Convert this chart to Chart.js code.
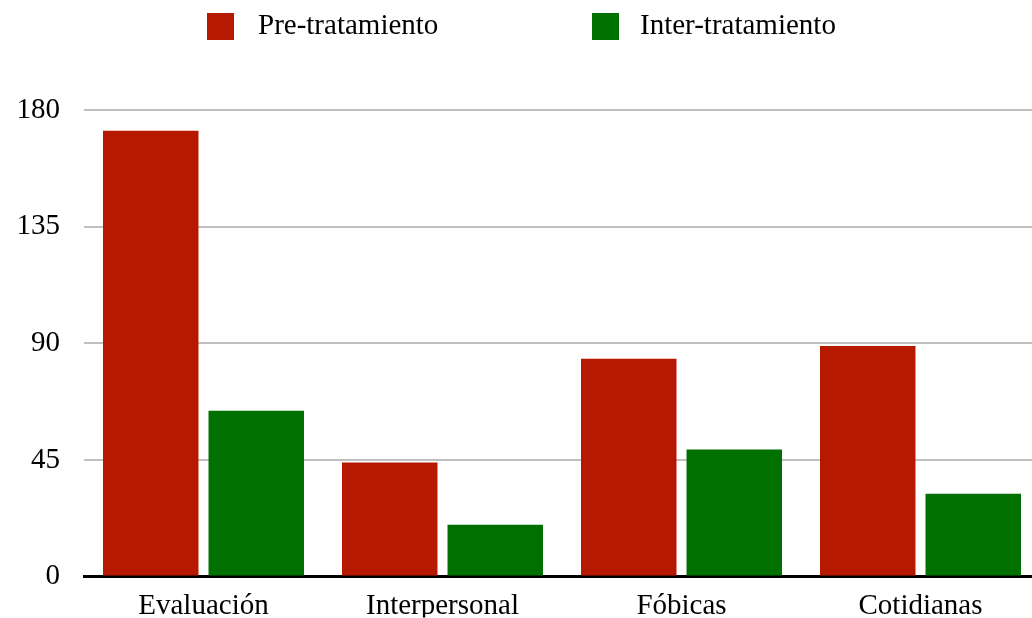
<!DOCTYPE html>
<html>
<head>
<meta charset="utf-8">
<script src="https://cdn.jsdelivr.net/npm/chart.js@4/dist/chart.umd.min.js"></script>
<style>
  html, body { margin: 0; padding: 0; background: #fff; overflow: hidden; }
  #clip { width: 1032px; height: 618px; overflow: hidden; }
  #wrap { width: 1040px; height: 618px; position: relative; }
</style>
</head>
<body>
<div id="clip"><div id="wrap"><canvas id="chart"></canvas></div></div>
<script>
const categories = ["Evaluación", "Interpersonal", "Fóbicas", "Cotidianas"];
const preValues   = [172, 44, 84, 89];
const interValues = [64, 20, 49, 32];
const yTicks = [0, 45, 90, 135, 180];

const RED   = "#b71800";
const GREEN = "#007000";
const FONT  = "'Liberation Serif', 'Times New Roman', serif";
const FSIZE = 29;

// legend drawn by hand so the two entries sit where the original puts them
const legendSpots = [{ box: 207, text: 258 }, { box: 592, text: 640 }];
const topLegend = {
  id: "topLegend",
  afterDraw(chart) {
    const ctx = chart.ctx;
    ctx.save();
    ctx.font = `${FSIZE}px ${FONT}`;
    ctx.textBaseline = "middle";
    chart.data.datasets.forEach((ds, i) => {
      const s = legendSpots[i];
      ctx.fillStyle = ds.backgroundColor;
      ctx.fillRect(s.box, 13, 27, 27);
      ctx.fillStyle = "#000";
      ctx.fillText(ds.label, s.text, 26);
    });
    ctx.restore();
  },
};

new Chart(document.getElementById("chart").getContext("2d"), {
  type: "bar",
  data: {
    labels: categories,
    datasets: [
      { label: "Pre-tratamiento",   data: preValues,   backgroundColor: RED },
      { label: "Inter-tratamiento", data: interValues, backgroundColor: GREEN },
    ],
  },
  plugins: [topLegend],
  options: {
    animation: false,
    responsive: true,
    maintainAspectRatio: false,
    layout: { padding: { left: 0, right: 0, top: 110, bottom: 0 } },
    datasets: { bar: { barPercentage: 0.905, categoryPercentage: 0.883 } },
    plugins: {
      tooltip: { enabled: false },
      legend: { display: false },
    },
    scales: {
      x: {
        grid: { display: false, drawTicks: false },
        border: { color: "#000", width: 3 },
        ticks: { padding: 12, color: "#000", font: { size: FSIZE, family: FONT } },
        afterFit: axis => { axis.height = 41; },
      },
      y: {
        min: 0,
        max: 180,
        afterBuildTicks: axis => { axis.ticks = yTicks.map(v => ({ value: v })); },
        grid: { color: "#c0c0c0", lineWidth: 2, drawTicks: false },
        border: { display: false },
        ticks: { padding: 24, color: "#000", font: { size: FSIZE, family: FONT } },
        afterFit: axis => { axis.width = 84; },
      },
    },
  },
});
</script>
</body>
</html>
